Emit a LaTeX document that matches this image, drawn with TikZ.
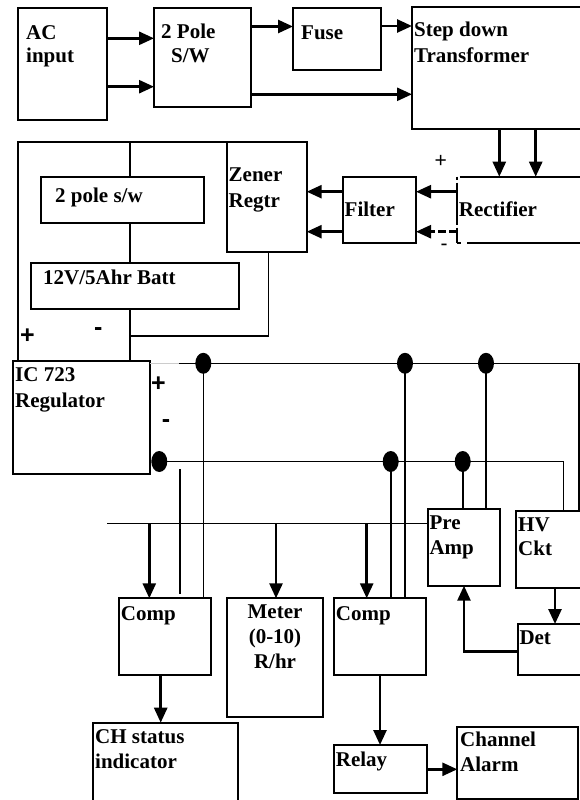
\documentclass[tikz,border=0pt]{standalone}
\usepackage{fontspec}
\setmainfont{Liberation Serif}
\setsansfont{Liberation Sans}
\usetikzlibrary{arrows.meta,shapes.geometric}
\begin{document}
\begin{tikzpicture}[x=1pt,y=-1pt,
  box/.style={draw, line width=1.9pt, outer sep=0pt, inner sep=0pt, anchor=north west},
  txt/.style={font=\fontsize{21}{25}\selectfont\bfseries, inner sep=0pt, anchor=base west},
  ctxt/.style={font=\fontsize{21}{25}\selectfont\bfseries, inner sep=0pt, anchor=base},
  arr/.style={line width=2.6pt, -{Triangle[length=15pt,width=13pt]}},
  wire/.style={line width=1.6pt},
  dotn/.style={fill, ellipse, minimum width=16pt, minimum height=21pt, inner sep=0pt, outer sep=0pt},
  sgn/.style={font=\sffamily\bfseries\fontsize{25}{25}\selectfont, inner sep=0pt},
  sgnt/.style={font=\sffamily\fontsize{21}{21}\selectfont, inner sep=0pt}]
\path[use as bounding box] (0,0) rectangle (580,800);
\clip (0,0) rectangle (580,800);

% boxes
\node[box, minimum width=89pt, minimum height=112pt] (ac) at (17.7,8.3) {};
\node[box, minimum width=97pt, minimum height=98.7pt] (pole) at (154,8.3) {};
\node[box, minimum width=88pt, minimum height=61.7pt] (fuse) at (293,8.3) {};
\node[box, minimum width=180pt, minimum height=122.6pt] (trans) at (412,6.7) {};
\node[box, draw=none, minimum width=130pt, minimum height=66pt] (rect) at (456.7,176.7) {};
\node[box, minimum width=73.3pt, minimum height=66pt] (filt) at (342.7,176.7) {};
\node[box, minimum width=80pt, minimum height=110.6pt] (zen) at (226.7,141.7) {};
\node[box, minimum width=163.3pt, minimum height=45.7pt] (psw) at (41,177) {};
\node[box, minimum width=208.3pt, minimum height=46.3pt] (batt) at (30.7,262.7) {};
\node[box, minimum width=136.7pt, minimum height=113.3pt] (ic) at (13.3,360.7) {};
\node[box, minimum width=72.3pt, minimum height=77pt] (pre) at (427.7,508.7) {};
\node[box, minimum width=80pt, minimum height=77.6pt] (hv) at (516,510.7) {};
\node[box, minimum width=91.7pt, minimum height=76.7pt] (comp1) at (119,598.3) {};
\node[box, minimum width=96.6pt, minimum height=118.4pt] (meter) at (226.7,598.3) {};
\node[box, minimum width=92pt, minimum height=76.7pt] (comp2) at (334,598.3) {};
\node[box, minimum width=80pt, minimum height=51pt] (det) at (517.7,624) {};
\node[box, minimum width=145pt, minimum height=90pt] (ch) at (92.7,722.7) {};
\node[box, minimum width=92.7pt, minimum height=47.7pt] (relay) at (334,745) {};
\node[box, minimum width=121pt, minimum height=72.6pt] (chan) at (457.3,726.7) {};

% rectifier outline with broken left side
\draw[line width=1.9pt] ([xshift=3pt]rect.north west) -- (rect.north east) -- (rect.south east) -- ([xshift=10pt]rect.south west);
\draw[line width=1.9pt] (rect.south west) -- ([xshift=4pt]rect.south west);
\draw[line width=1.9pt, dash pattern=on 3pt off 3pt on 42pt off 3pt on 30pt] (rect.north west) -- (rect.south west);

% texts
\node[txt] (t-ac1) at (26,40) {AC};
\node[txt] (t-ac2) at (26,63) {input};
\node[txt] (t-po1) at (161,39) {2 Pole};
\node[txt] (t-po2) at (171,63) {S/W};
\node[txt] (t-fu) at (301,39.3) {Fuse};
\node[txt] (t-tr1) at (414,36.7) {Step down};
\node[txt] (t-tr2) at (414,62.7) {Transformer};
\node[txt] (t-ze1) at (228.5,181) {Zener};
\node[txt] (t-ze2) at (228.5,207) {Regtr};
\node[txt] (t-fi) at (344.5,216) {Filter};
\node[txt] (t-re) at (458.7,216) {Rectifier};
\node[txt] (t-ps) at (55,202) {2 pole s/w};
\node[txt] (t-ba) at (43,284) {12V/5Ahr Batt};
\node[txt] (t-ic1) at (15,381) {IC 723};
\node[txt] (t-ic2) at (15,407) {Regulator};
\node[txt] (t-pr1) at (429.3,529) {Pre};
\node[txt] (t-pr2) at (429.3,554) {Amp};
\node[txt] (t-hv1) at (518,531) {HV};
\node[txt] (t-hv2) at (518,555.7) {Ckt};
\node[txt] (t-c1) at (120.7,620) {Comp};
\node[txt] (t-c2) at (335.7,620) {Comp};
\node[ctxt] (t-m1) at (275,618) {Meter};
\node[ctxt] (t-m2) at (275,643) {(0-10)};
\node[ctxt] (t-m3) at (275,668) {R/hr};
\node[txt] (t-ch1) at (95,743) {CH status};
\node[txt] (t-ch2) at (95,768) {indicator};
\node[txt] (t-rl) at (335.7,766.7) {Relay};
\node[txt] (t-ca1) at (460,746.7) {Channel};
\node[txt] (t-ca2) at (460,771.7) {Alarm};
\node[txt] (t-de) at (519.3,644) {Det};

% signs
\node[sgn] (s1) at (27.3,336) {+};
\node[sgn] (s2) at (98.3,332) {-};
\node[sgn] (s3) at (158.3,384.5) {+};
\node[sgn] (s4) at (166,424) {-};
\node[sgnt] (s5) at (440.7,161.3) {+};
\node[sgnt] (s6) at (444,247) {-};

% power path arrows
\draw[arr] (ac.east |- 0,38.3) -- (pole.west |- 0,38.3);
\draw[arr] (ac.east |- 0,86.7) -- (pole.west |- 0,86.7);
\draw[arr] (pole.east |- 0,26.5) -- (fuse.west |- 0,26.5);
\draw[arr] (fuse.east |- 0,26) -- (trans.west |- 0,26);
\draw[arr] (pole.east |- 0,94.3) -- (trans.west |- 0,94.3);
\draw[arr] (trans.south -| 499.3,0) -- (rect.north -| 499.3,0);
\draw[arr] (trans.south -| 535.7,0) -- (rect.north -| 535.7,0);
\draw[arr] (rect.west |- 0,191.7) -- (filt.east |- 0,191.7);
\draw[arr, dash pattern=on 8pt off 3pt] (rect.west |- 0,231.7) -- (filt.east |- 0,231.7);
\draw[arr] (filt.west |- 0,191.7) -- (zen.east |- 0,191.7);
\draw[arr] (filt.west |- 0,231.7) -- (zen.east |- 0,231.7);

% battery enclosure wiring
\draw[wire] (ic.north -| 17.7,0) |- ([xshift=10.3pt]zen.north west);
\draw[wire] (zen.north -| 130,0) -- (psw.north -| 130,0);
\draw[wire] (psw.south -| 130,0) -- (batt.north -| 130,0);
\draw[wire] (batt.south -| 130,0) -- (ic.north -| 130,0);
\coordinate (jn) at (130,335.7);
\draw[wire] (zen.south -| 268.3,0) |- (jn);

% supply rails
\coordinate (trs) at (179,363.3);
\draw[line width=1.2pt, gray!40] (ic.east |- trs) -- (trs);
\draw[wire] (trs) -- (578.7,363.3) -- (hv.north -| 578.7,0);
\node[dotn] (t1) at (203.3,363.3) {};
\node[dotn] (t2) at (405,363.3) {};
\node[dotn] (t3) at (486,363.3) {};
\draw[wire] (t1.center) -- (t1.center |- comp1.north);
\draw[wire] (t2.center) -- (t2.center |- comp2.north);
\draw[wire] (t3.center) -- (t3.center |- pre.north);

\node[dotn] (b1) at (159.3,461.5) {};
\node[dotn] (b2) at (390.7,461.5) {};
\node[dotn] (b3) at (462.7,461.5) {};
\draw[wire] (b1.center) -- (563.3,461.5) -- (hv.north -| 563.3,0);
\draw[wire] (b2.center) -- (b2.center |- comp2.north);
\draw[wire] (b3.center) -- (b3.center |- pre.north);
\coordinate (f1) at (180,469);
\coordinate (f2) at (180,594.3);
\draw[wire] (f1) -- (f2);

% signal bus
\coordinate (sig) at (107.3,523.5);
\draw[wire] (sig) -- (sig -| pre.west);
\draw[arr] (149.3,523.5) -- (149.3,523.5 |- comp1.north);
\draw[arr] (276,523.5) -- (276,523.5 |- meter.north);
\draw[arr] (366.7,523.5) -- (366.7,523.5 |- comp2.north);

% outputs
\draw[arr] (comp1.south -| 160.7,0) -- (ch.north -| 160.7,0);
\draw[arr] (comp2.south -| 380,0) -- (relay.north -| 380,0);
\draw[arr] (relay.east |- 0,769.3) -- (chan.west |- 0,769.3);
\draw[arr] (hv.south -| 555,0) -- (det.north -| 555,0);
\draw[arr] (det.west |- 0,651.7) -| (pre.south -| 464,0);
\end{tikzpicture}
\end{document}
